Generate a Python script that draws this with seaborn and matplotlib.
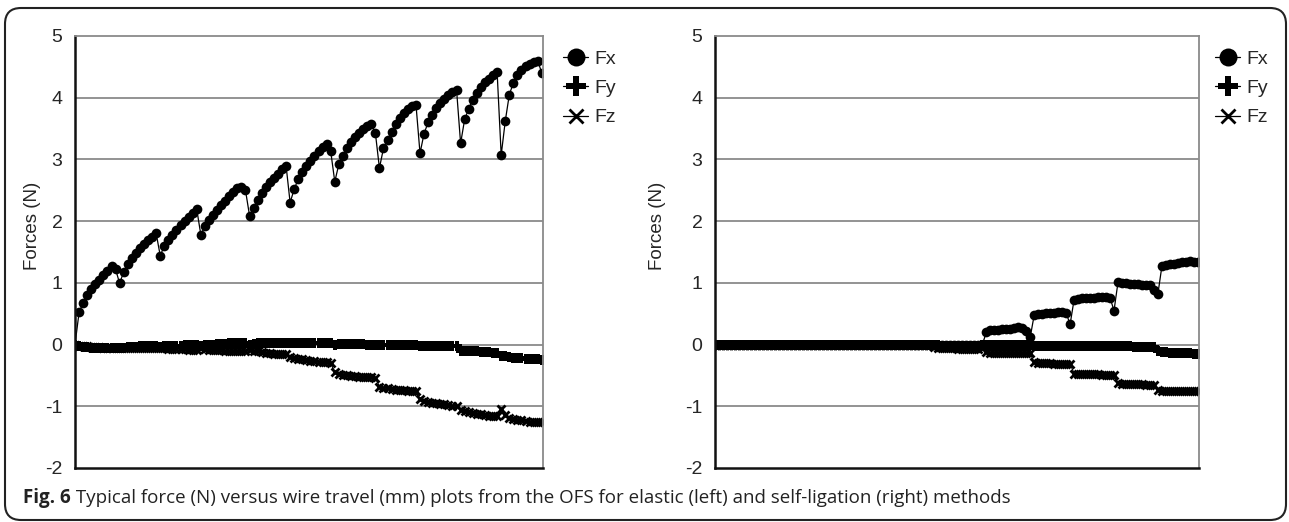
import numpy as np
import pandas as pd
import matplotlib
matplotlib.use("Agg")
import matplotlib.pyplot as plt
import seaborn as sns
from matplotlib.patches import FancyBboxPatch
from matplotlib.transforms import IdentityTransform

# Forces (N), one value per sample along the wire travel
# elastic ligation (left panel)
left_fx = [0.00, 0.52, 0.68, 0.80, 0.90, 0.98, 1.05, 1.12, 1.20, 1.27, 1.22,
           0.99, 1.18, 1.30, 1.40, 1.48, 1.56, 1.63, 1.69, 1.75, 1.80,
           1.44, 1.60, 1.70, 1.78, 1.86, 1.93, 2.00, 2.07, 2.13, 2.19,
           1.78, 1.92, 2.02, 2.10, 2.18, 2.26, 2.33, 2.40, 2.47, 2.54, 2.55, 2.50,
           2.09, 2.22, 2.35, 2.45, 2.55, 2.63, 2.70, 2.77, 2.84, 2.90,
           2.30, 2.52, 2.68, 2.80, 2.90, 2.98, 3.06, 3.13, 3.20, 3.25, 3.13,
           2.64, 2.92, 3.06, 3.18, 3.28, 3.36, 3.43, 3.49, 3.54, 3.57, 3.43,
           2.86, 3.18, 3.32, 3.45, 3.58, 3.67, 3.75, 3.81, 3.86, 3.89,
           3.10, 3.42, 3.60, 3.72, 3.83, 3.92, 3.98, 4.04, 4.09, 4.13,
           3.26, 3.65, 3.82, 3.97, 4.08, 4.17, 4.25, 4.31, 4.36, 4.41,
           3.07, 3.62, 4.05, 4.24, 4.37, 4.45, 4.51, 4.55, 4.58, 4.60, 4.40]
left_fy = [0.00, -0.03, -0.04, -0.04, -0.05, -0.05, -0.05, -0.05, -0.06, -0.05, -0.05,
           -0.05, -0.05, -0.04, -0.04, -0.04, -0.03, -0.03, -0.03, -0.03, -0.02,
           -0.04, -0.03, -0.03, -0.03, -0.02, -0.02, -0.01, -0.01, -0.01, 0.00,
           -0.02, -0.01, 0.00, 0.00, 0.01, 0.01, 0.01, 0.02, 0.02, 0.02, 0.02, 0.02,
           0.00, 0.01, 0.02, 0.02, 0.02, 0.03, 0.03, 0.03, 0.03, 0.03,
           0.02, 0.02, 0.02, 0.02, 0.03, 0.03, 0.03, 0.03, 0.03, 0.03, 0.02,
           0.00, 0.01, 0.01, 0.01, 0.01, 0.01, 0.01, 0.01, 0.00, 0.00, 0.00,
           -0.01, -0.01, -0.01, -0.01, 0.00, 0.00, 0.00, 0.00, 0.00, 0.00,
           -0.02, -0.02, -0.02, -0.03, -0.03, -0.03, -0.03, -0.03, -0.03, -0.03,
           -0.10, -0.10, -0.11, -0.11, -0.11, -0.12, -0.12, -0.12, -0.13, -0.13,
           -0.18, -0.19, -0.20, -0.21, -0.21, -0.22, -0.23, -0.23, -0.24, -0.24, -0.25]
left_fz = [0.00, -0.02, -0.03, -0.03, -0.04, -0.04, -0.04, -0.05, -0.05, -0.05, -0.05,
           -0.05, -0.05, -0.05, -0.05, -0.05, -0.06, -0.06, -0.06, -0.06, -0.06,
           -0.06, -0.06, -0.07, -0.07, -0.07, -0.07, -0.07, -0.08, -0.08, -0.08,
           -0.06, -0.07, -0.08, -0.08, -0.09, -0.09, -0.10, -0.10, -0.11, -0.11, -0.11, -0.10,
           -0.08, -0.10, -0.11, -0.12, -0.13, -0.14, -0.15, -0.15, -0.16, -0.16,
           -0.20, -0.22, -0.23, -0.24, -0.25, -0.26, -0.27, -0.28, -0.28, -0.29, -0.30,
           -0.45, -0.47, -0.49, -0.50, -0.51, -0.51, -0.52, -0.52, -0.53, -0.53, -0.54,
           -0.68, -0.70, -0.71, -0.72, -0.73, -0.74, -0.74, -0.75, -0.75, -0.76,
           -0.88, -0.91, -0.93, -0.94, -0.95, -0.96, -0.97, -0.98, -0.99, -1.00,
           -1.06, -1.08, -1.10, -1.11, -1.12, -1.13, -1.14, -1.15, -1.16, -1.16,
           -1.05, -1.14, -1.19, -1.21, -1.22, -1.23, -1.24, -1.25, -1.26, -1.26, -1.25]

# self-ligation (right panel)
right_fx = [0.00, 0.00, 0.00, 0.00, 0.00, 0.00, 0.00, 0.00, 0.00, 0.00,
            0.00, 0.00, 0.00, 0.00, 0.00, 0.00, 0.00, 0.00, 0.00, 0.00,
            0.00, 0.00, 0.00, 0.00, 0.00, 0.00, 0.00, 0.00, 0.00, 0.00,
            0.00, 0.00, 0.00, 0.00, 0.00, 0.00, 0.00, 0.00, 0.00, 0.00,
            0.00, 0.00, 0.00, 0.00, 0.00, 0.00, 0.00, 0.00, 0.00, 0.00,
            0.00, 0.00, 0.00, 0.00, 0.00, 0.00, 0.00, 0.00, 0.00, 0.00,
            0.00, 0.00, 0.00, 0.00, 0.00, 0.00, 0.00, 0.00,
            0.20, 0.23, 0.24, 0.24, 0.25, 0.25, 0.26, 0.27, 0.28, 0.27, 0.22, 0.12,
            0.48, 0.50, 0.50, 0.51, 0.51, 0.51, 0.52, 0.52, 0.51, 0.33,
            0.73, 0.74, 0.75, 0.75, 0.76, 0.76, 0.77, 0.77, 0.77, 0.76, 0.55,
            1.01, 1.00, 0.99, 0.98, 0.98, 0.98, 0.97, 0.97, 0.96, 0.88, 0.82,
            1.27, 1.29, 1.30, 1.31, 1.32, 1.33, 1.34, 1.35, 1.34, 1.33]
right_fy = [0.00, 0.00, 0.00, 0.00, 0.00, 0.00, 0.00, 0.00, 0.00, 0.00,
            0.00, 0.00, 0.00, 0.00, 0.00, 0.00, 0.00, 0.00, 0.00, 0.00,
            0.00, 0.00, 0.00, 0.00, 0.00, 0.00, 0.00, 0.00, 0.00, 0.00,
            0.00, 0.00, 0.00, 0.00, 0.00, 0.00, 0.00, 0.00, 0.00, 0.00,
            0.00, 0.00, 0.00, 0.00, 0.00, 0.00, 0.00, 0.00, 0.00, 0.00,
            0.00, 0.00, 0.00, 0.00, 0.00,
            -0.01, -0.01, -0.02, -0.02, -0.02, -0.02, -0.02, -0.02, -0.02, -0.02, -0.02, -0.02, -0.01,
            -0.01, -0.01, -0.01, -0.01, -0.01, -0.01, -0.01, -0.01, -0.01, -0.01, -0.01, -0.01,
            -0.02, -0.02, -0.02, -0.02, -0.02, -0.02, -0.02, -0.02, -0.02, -0.02,
            -0.03, -0.03, -0.03, -0.03, -0.03, -0.03, -0.03, -0.03, -0.03, -0.03, -0.03,
            -0.03, -0.03, -0.03, -0.03, -0.04, -0.04, -0.04, -0.04, -0.04, -0.04,
            -0.10, -0.12, -0.12, -0.13, -0.13, -0.13, -0.14, -0.14, -0.14, -0.15, -0.15]
right_fz = [0.00, 0.00, 0.00, 0.00, 0.00, 0.00, 0.00, 0.00, 0.00, 0.00,
            0.00, 0.00, 0.00, 0.00, 0.00, 0.00, 0.00, 0.00, 0.00, 0.00,
            0.00, 0.00, 0.00, 0.00, 0.00, 0.00, 0.00, 0.00, 0.00, 0.00,
            0.00, 0.00, 0.00, 0.00, 0.00, 0.00, 0.00, 0.00, 0.00, 0.00,
            0.00, 0.00, 0.00, 0.00, 0.00, 0.00, 0.00, 0.00, 0.00, 0.00,
            0.00, 0.00, 0.00, 0.00, 0.00,
            -0.04, -0.05, -0.05, -0.06, -0.06, -0.06, -0.07, -0.07, -0.07, -0.07, -0.07, -0.07, -0.06,
            -0.12, -0.13, -0.13, -0.13, -0.13, -0.13, -0.13, -0.13, -0.13, -0.14, -0.14, -0.14,
            -0.29, -0.30, -0.30, -0.30, -0.30, -0.31, -0.31, -0.31, -0.31, -0.31,
            -0.47, -0.48, -0.48, -0.48, -0.48, -0.48, -0.48, -0.49, -0.49, -0.49, -0.49,
            -0.63, -0.64, -0.64, -0.64, -0.64, -0.64, -0.64, -0.65, -0.65, -0.65,
            -0.74, -0.75, -0.75, -0.76, -0.76, -0.76, -0.76, -0.76, -0.76, -0.76, -0.76]

y_ticks = [-2, -1, 0, 1, 2, 3, 4, 5]
series_names = ["Fx", "Fy", "Fz"]
caption_bold = "Fig. 6"
caption_text = (" Typical force (N) versus wire travel (mm) plots from the OFS "
                "for elastic (left) and self-ligation (right) methods")

sns.set_style("white")
plt.rcParams["font.family"] = ["Liberation Sans", "DejaVu Sans"]
plt.rcParams["axes.unicode_minus"] = False

W, H = 1289, 522
fig = plt.figure(figsize=(W / 100, H / 100), dpi=100)
ax_l = fig.add_axes([75 / W, 54 / H, 468 / W, 432 / H])
ax_r = fig.add_axes([715 / W, 54 / H, 484 / W, 432 / H])

marker_style = {
    "Fx": dict(marker="o", markersize=7, markeredgewidth=0),
    "Fy": dict(marker="P", markersize=7.5, markeredgewidth=0),
    "Fz": dict(marker="x", markersize=5.5, markeredgewidth=2.0),
}


def draw_panel(ax, fx, fy, fz, leg_x, lab_x):
    df = pd.DataFrame({"step": np.arange(len(fx)), "Fx": fx, "Fy": fy, "Fz": fz})
    for name in series_names:
        sns.lineplot(data=df, x="step", y=name, ax=ax, color="black", lw=0.9,
                     estimator=None, label=name, markeredgecolor="black",
                     markerfacecolor="black", **marker_style[name])
    ax.set_xlim(0, len(fx) - 0.7)
    ax.set_ylim(-2, 5)
    ax.set_yticks(y_ticks)
    ax.set_xticks([])
    ax.set_xlabel("")
    ax.set_ylabel("Forces (N)", fontsize=13.5)
    ax.yaxis.set_label_coords(lab_x, 0.56)
    ax.tick_params(axis="y", labelsize=14, length=0, pad=9)
    for v in y_ticks[1:-1]:
        ax.axhline(v, color="#8a8a8a", lw=1.3, zorder=0)
    for s in ["left", "bottom"]:
        ax.spines[s].set_color("#111111")
        ax.spines[s].set_linewidth(1.8)
    for s in ["top", "right"]:
        ax.spines[s].set_color("#8a8a8a")
        ax.spines[s].set_linewidth(1.3)
    h, l = ax.get_legend_handles_labels()
    ax.legend(h, l, loc="upper left", bbox_to_anchor=(leg_x, 0.967), frameon=False,
              fontsize=14, markerscale=1.85, handlelength=1.3, handletextpad=0.3,
              borderpad=0, borderaxespad=0, labelspacing=0.6)


draw_panel(ax_l, left_fx, left_fy, left_fz, 1.043, -0.072)
draw_panel(ax_r, right_fx, right_fy, right_fz, 1.033, -0.101)

# rounded frame around the whole figure
frame = FancyBboxPatch((5, 2), 1281, 512, boxstyle="round,pad=0,rounding_size=16",
                       transform=IdentityTransform(), fill=False,
                       edgecolor="#222222", lw=1.5)
fig.add_artist(frame)

# caption with bold figure number
renderer = fig.canvas.get_renderer()
t1 = fig.text(23 / W, 1 - 503 / H, caption_bold, fontsize=13.5, fontweight="bold",
              family=["Open Sans", "DejaVu Sans"], color="#222222")
bb = t1.get_window_extent(renderer)
fig.text(bb.x1 / W, 1 - 503 / H, caption_text, fontsize=13.5,
         family=["Open Sans", "DejaVu Sans"], color="#222222")

fig.savefig("out.png", dpi=100)
